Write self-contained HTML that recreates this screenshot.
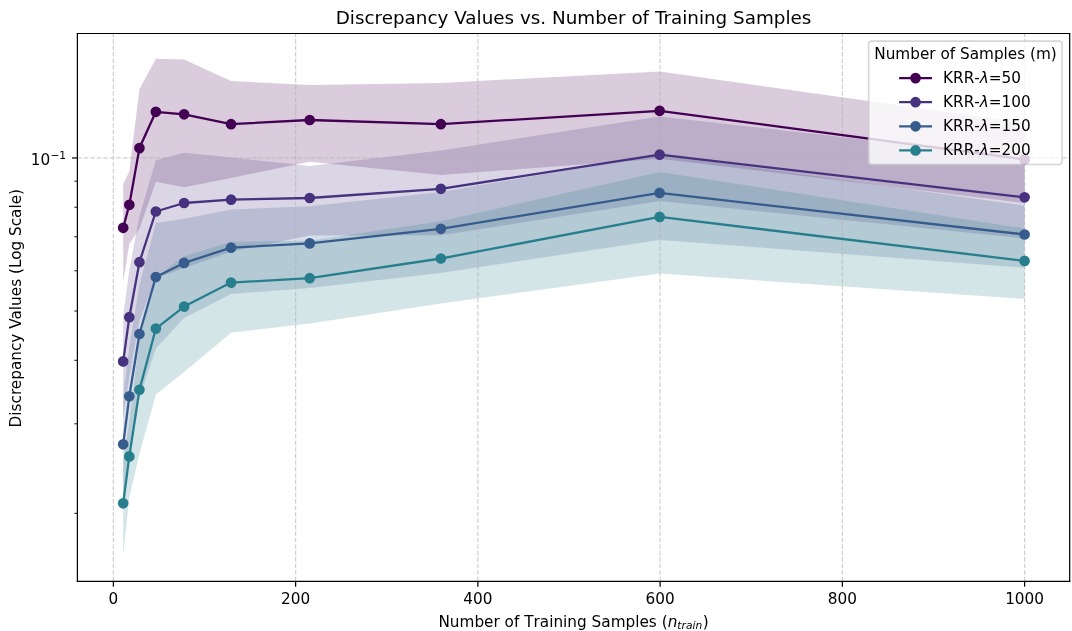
<!DOCTYPE html>
<html><head><meta charset="utf-8"><title>Discrepancy Values vs. Number of Training Samples</title>
<style>html,body{margin:0;padding:0;background:#fff;width:1072px;height:631px;overflow:hidden}svg{display:block;will-change:transform}</style>
</head><body>
<svg width="1072" height="631" viewBox="0 0 701.67 413.01" version="1.1">
<defs>
<style type="text/css">*{stroke-linejoin: round; stroke-linecap: butt}</style>
</defs>
<g id="figure_1">
<g id="patch_1">
<path d="M 0 413.01 
L 701.67 413.01 
L 701.67 0 
L 0 0 
z
" style="fill: #ffffff"/>
</g>
<g id="axes_1">
<g id="patch_2">
<path d="M 50.66 380.48 
L 700.16 380.48 
L 700.16 21.92 
L 50.66 21.92 
z
" style="fill: #ffffff"/>
</g>
<g id="FillBetweenPolyCollection_1">
<defs>
<path id="mf0adc35b43" d="M 80.63 -292.58 
L 80.63 -228.11 
L 84.65 -253.28 
L 91.27 -263.34 
L 102.01 -293.98 
L 120.50 -290.50 
L 151.24 -296.53 
L 202.71 -307.14 
L 288.56 -298.54 
L 431.76 -309.17 
L 670.64 -280.14 
L 670.64 -332.50 
L 670.64 -332.50 
L 431.76 -366.21 
L 288.56 -358.69 
L 202.71 -357.44 
L 151.24 -360 
L 120.50 -374.00 
L 102.01 -374.59 
L 91.27 -354.63 
L 84.65 -300.76 
L 80.63 -292.58 
z
"/>
</defs>
<g clip-path="url(#p15e19fb88e)">
<use href="#mf0adc35b43" x="0" y="413.01" style="fill: #440154; fill-opacity: 0.2"/>
</g>
</g>
<g id="FillBetweenPolyCollection_2">
<defs>
<path id="mdbcffd2e6a" d="M 80.63 -206.18 
L 80.63 -139.01 
L 84.65 -166.05 
L 91.27 -203.10 
L 102.01 -230.87 
L 120.50 -237.54 
L 151.24 -248.22 
L 202.71 -258.91 
L 288.56 -258.99 
L 431.76 -281.41 
L 670.64 -256.90 
L 670.64 -309.6 
L 670.64 -309.6 
L 431.76 -336.82 
L 288.56 -314.57 
L 202.71 -304.36 
L 151.24 -309.86 
L 120.50 -313.00 
L 102.01 -308.09 
L 91.27 -271.63 
L 84.65 -236.29 
L 80.63 -206.18 
z
"/>
</defs>
<g clip-path="url(#p15e19fb88e)">
<use href="#mdbcffd2e6a" x="0" y="413.01" style="fill: #46327e; fill-opacity: 0.2"/>
</g>
</g>
<g id="FillBetweenPolyCollection_3">
<defs>
<path id="m66759be6f7" d="M 80.63 -154.45 
L 80.63 -80.62 
L 84.65 -112.04 
L 91.27 -152.82 
L 102.01 -184.90 
L 120.50 -204.87 
L 151.24 -220.58 
L 202.71 -224.50 
L 288.56 -234.39 
L 431.76 -255.99 
L 670.64 -237.79 
L 670.64 -278.41 
L 670.64 -278.41 
L 431.76 -312.10 
L 288.56 -287.30 
L 202.71 -277.97 
L 151.24 -275.92 
L 120.50 -269.77 
L 102.01 -267.00 
L 91.27 -226.65 
L 84.65 -185.87 
L 80.63 -154.45 
z
"/>
</defs>
<g clip-path="url(#p15e19fb88e)">
<use href="#m66759be6f7" x="0" y="413.01" style="fill: #365c8d; fill-opacity: 0.2"/>
</g>
</g>
<g id="FillBetweenPolyCollection_4">
<defs>
<path id="m89dff38235" d="M 80.63 -111.41 
L 80.63 -49.09 
L 84.65 -87.70 
L 91.27 -115.85 
L 102.01 -154.73 
L 120.50 -169.52 
L 151.24 -195.18 
L 202.71 -201.27 
L 288.56 -214.42 
L 431.76 -234 
L 670.64 -217.30 
L 670.64 -263.50 
L 670.64 -263.50 
L 431.76 -300.50 
L 288.56 -268.22 
L 202.71 -255.51 
L 151.24 -254.79 
L 120.50 -245.31 
L 102.01 -231.14 
L 91.27 -190.39 
L 84.65 -136.72 
L 80.63 -111.41 
z
"/>
</defs>
<g clip-path="url(#p15e19fb88e)">
<use href="#m89dff38235" x="0" y="413.01" style="fill: #277f8e; fill-opacity: 0.2"/>
</g>
</g>
<g id="matplotlib.axis_1">
<g id="xtick_1">
<g id="line2d_1">
<path d="M 74.22 380.48 
L 74.22 21.92 
" clip-path="url(#p15e19fb88e)" style="fill: none; stroke-dasharray: 2.96,1.28; stroke-dashoffset: 0; stroke: #b0b0b0; stroke-opacity: 0.6; stroke-width: 0.8"/>
</g>
<g id="line2d_2">
<defs>
<path id="m1504cfccaf" d="M 0 0 
L 0 3.5 
" style="stroke: #000000; stroke-width: 0.8"/>
</defs>
<g>
<use href="#m1504cfccaf" x="74.22" y="380.48" style="stroke: #000000; stroke-width: 0.8"/>
</g>
</g>
<g id="text_1">
<text style="font-size: 10px; font-family: 'DejaVu Sans', sans-serif; text-anchor: middle" x="74.22" y="395.08" transform="rotate(-0 74.22 395.08)">0</text>
</g>
</g>
<g id="xtick_2">
<g id="line2d_3">
<path d="M 193.50 380.48 
L 193.50 21.92 
" clip-path="url(#p15e19fb88e)" style="fill: none; stroke-dasharray: 2.96,1.28; stroke-dashoffset: 0; stroke: #b0b0b0; stroke-opacity: 0.6; stroke-width: 0.8"/>
</g>
<g id="line2d_4">
<g>
<use href="#m1504cfccaf" x="193.50" y="380.48" style="stroke: #000000; stroke-width: 0.8"/>
</g>
</g>
<g id="text_2">
<text style="font-size: 10px; font-family: 'DejaVu Sans', sans-serif; text-anchor: middle" x="193.50" y="395.08" transform="rotate(-0 193.50 395.08)">200</text>
</g>
</g>
<g id="xtick_3">
<g id="line2d_5">
<path d="M 312.79 380.48 
L 312.79 21.92 
" clip-path="url(#p15e19fb88e)" style="fill: none; stroke-dasharray: 2.96,1.28; stroke-dashoffset: 0; stroke: #b0b0b0; stroke-opacity: 0.6; stroke-width: 0.8"/>
</g>
<g id="line2d_6">
<g>
<use href="#m1504cfccaf" x="312.79" y="380.48" style="stroke: #000000; stroke-width: 0.8"/>
</g>
</g>
<g id="text_3">
<text style="font-size: 10px; font-family: 'DejaVu Sans', sans-serif; text-anchor: middle" x="312.79" y="395.08" transform="rotate(-0 312.79 395.08)">400</text>
</g>
</g>
<g id="xtick_4">
<g id="line2d_7">
<path d="M 432.07 380.48 
L 432.07 21.92 
" clip-path="url(#p15e19fb88e)" style="fill: none; stroke-dasharray: 2.96,1.28; stroke-dashoffset: 0; stroke: #b0b0b0; stroke-opacity: 0.6; stroke-width: 0.8"/>
</g>
<g id="line2d_8">
<g>
<use href="#m1504cfccaf" x="432.07" y="380.48" style="stroke: #000000; stroke-width: 0.8"/>
</g>
</g>
<g id="text_4">
<text style="font-size: 10px; font-family: 'DejaVu Sans', sans-serif; text-anchor: middle" x="432.07" y="395.08" transform="rotate(-0 432.07 395.08)">600</text>
</g>
</g>
<g id="xtick_5">
<g id="line2d_9">
<path d="M 551.35 380.48 
L 551.35 21.92 
" clip-path="url(#p15e19fb88e)" style="fill: none; stroke-dasharray: 2.96,1.28; stroke-dashoffset: 0; stroke: #b0b0b0; stroke-opacity: 0.6; stroke-width: 0.8"/>
</g>
<g id="line2d_10">
<g>
<use href="#m1504cfccaf" x="551.35" y="380.48" style="stroke: #000000; stroke-width: 0.8"/>
</g>
</g>
<g id="text_5">
<text style="font-size: 10px; font-family: 'DejaVu Sans', sans-serif; text-anchor: middle" x="551.35" y="395.08" transform="rotate(-0 551.35 395.08)">800</text>
</g>
</g>
<g id="xtick_6">
<g id="line2d_11">
<path d="M 670.64 380.48 
L 670.64 21.92 
" clip-path="url(#p15e19fb88e)" style="fill: none; stroke-dasharray: 2.96,1.28; stroke-dashoffset: 0; stroke: #b0b0b0; stroke-opacity: 0.6; stroke-width: 0.8"/>
</g>
<g id="line2d_12">
<g>
<use href="#m1504cfccaf" x="670.64" y="380.48" style="stroke: #000000; stroke-width: 0.8"/>
</g>
</g>
<g id="text_6">
<text style="font-size: 10px; font-family: 'DejaVu Sans', sans-serif; text-anchor: middle" x="670.64" y="395.08" transform="rotate(-0 670.64 395.08)">1000</text>
</g>
</g>
<g id="text_7">
<!-- Number of Training Samples ($n_{train}$) -->
<g transform="translate(286.96 410.72)">
<text>
<tspan x="0" y="-0.40" style="font-size: 10px; font-family: 'DejaVu Sans', sans-serif">N</tspan>
<tspan x="7.48" y="-0.40" style="font-size: 10px; font-family: 'DejaVu Sans', sans-serif">u</tspan>
<tspan x="13.81" y="-0.40" style="font-size: 10px; font-family: 'DejaVu Sans', sans-serif">m</tspan>
<tspan x="23.55" y="-0.40" style="font-size: 10px; font-family: 'DejaVu Sans', sans-serif">b</tspan>
<tspan x="29.90" y="-0.40" style="font-size: 10px; font-family: 'DejaVu Sans', sans-serif">e</tspan>
<tspan x="36.05" y="-0.40" style="font-size: 10px; font-family: 'DejaVu Sans', sans-serif">r</tspan>
<tspan x="40.17" y="-0.40" style="font-size: 10px; font-family: 'DejaVu Sans', sans-serif"> </tspan>
<tspan x="43.34" y="-0.40" style="font-size: 10px; font-family: 'DejaVu Sans', sans-serif">o</tspan>
<tspan x="49.46" y="-0.40" style="font-size: 10px; font-family: 'DejaVu Sans', sans-serif">f</tspan>
<tspan x="52.98" y="-0.40" style="font-size: 10px; font-family: 'DejaVu Sans', sans-serif"> </tspan>
<tspan x="56.16" y="-0.40" style="font-size: 10px; font-family: 'DejaVu Sans', sans-serif">T</tspan>
<tspan x="62.27" y="-0.40" style="font-size: 10px; font-family: 'DejaVu Sans', sans-serif">r</tspan>
<tspan x="66.38" y="-0.40" style="font-size: 10px; font-family: 'DejaVu Sans', sans-serif">a</tspan>
<tspan x="72.51" y="-0.40" style="font-size: 10px; font-family: 'DejaVu Sans', sans-serif">i</tspan>
<tspan x="75.29" y="-0.40" style="font-size: 10px; font-family: 'DejaVu Sans', sans-serif">n</tspan>
<tspan x="81.63" y="-0.40" style="font-size: 10px; font-family: 'DejaVu Sans', sans-serif">i</tspan>
<tspan x="84.40" y="-0.40" style="font-size: 10px; font-family: 'DejaVu Sans', sans-serif">n</tspan>
<tspan x="90.74" y="-0.40" style="font-size: 10px; font-family: 'DejaVu Sans', sans-serif">g</tspan>
<tspan x="97.09" y="-0.40" style="font-size: 10px; font-family: 'DejaVu Sans', sans-serif"> </tspan>
<tspan x="100.27" y="-0.40" style="font-size: 10px; font-family: 'DejaVu Sans', sans-serif">S</tspan>
<tspan x="106.62" y="-0.40" style="font-size: 10px; font-family: 'DejaVu Sans', sans-serif">a</tspan>
<tspan x="112.74" y="-0.40" style="font-size: 10px; font-family: 'DejaVu Sans', sans-serif">m</tspan>
<tspan x="122.49" y="-0.40" style="font-size: 10px; font-family: 'DejaVu Sans', sans-serif">p</tspan>
<tspan x="128.83" y="-0.40" style="font-size: 10px; font-family: 'DejaVu Sans', sans-serif">l</tspan>
<tspan x="131.61" y="-0.40" style="font-size: 10px; font-family: 'DejaVu Sans', sans-serif">e</tspan>
<tspan x="137.76" y="-0.40" style="font-size: 10px; font-family: 'DejaVu Sans', sans-serif">s</tspan>
<tspan x="142.97" y="-0.40" style="font-size: 10px; font-family: 'DejaVu Sans', sans-serif"> </tspan>
<tspan x="146.15" y="-0.40" style="font-size: 10px; font-family: 'DejaVu Sans', sans-serif">(</tspan>
<tspan x="172.96" y="-0.40" style="font-size: 10px; font-family: 'DejaVu Sans', sans-serif">)</tspan>
<tspan x="150.05" y="-0.40" style="font-style: oblique; font-size: 10px; font-family: 'DejaVu Sans', sans-serif">n</tspan>
<tspan x="156.39" y="1.23" style="font-style: oblique; font-size: 7px; font-family: 'DejaVu Sans', sans-serif">t</tspan>
<tspan x="159.14" y="1.23" style="font-style: oblique; font-size: 7px; font-family: 'DejaVu Sans', sans-serif">r</tspan>
<tspan x="162.01" y="1.23" style="font-style: oblique; font-size: 7px; font-family: 'DejaVu Sans', sans-serif">a</tspan>
<tspan x="166.30" y="1.23" style="font-style: oblique; font-size: 7px; font-family: 'DejaVu Sans', sans-serif">i</tspan>
<tspan x="168.25" y="1.23" style="font-style: oblique; font-size: 7px; font-family: 'DejaVu Sans', sans-serif">n</tspan>
</text>
</g>
</g>
</g>
<g id="matplotlib.axis_2">
<g id="ytick_1">
<g id="line2d_13">
<path d="M 50.66 103.39 
L 700.16 103.39 
" clip-path="url(#p15e19fb88e)" style="fill: none; stroke-dasharray: 2.96,1.28; stroke-dashoffset: 0; stroke: #b0b0b0; stroke-opacity: 0.6; stroke-width: 0.8"/>
</g>
<g id="line2d_14">
<defs>
<path id="m5d545ce8f8" d="M 0 0 
L -3.5 0 
" style="stroke: #000000; stroke-width: 0.8"/>
</defs>
<g>
<use href="#m5d545ce8f8" x="50.66" y="103.39" style="stroke: #000000; stroke-width: 0.8"/>
</g>
</g>
<g id="text_8">
<!-- $\mathdefault{10^{-1}}$ -->
<g transform="translate(20.16 107.97)">
<text>
<tspan x="0" y="-0.06" style="font-size: 10px; font-family: 'DejaVu Sans', sans-serif">1</tspan>
<tspan x="6.36" y="-0.06" style="font-size: 10px; font-family: 'DejaVu Sans', sans-serif">0</tspan>
<tspan x="12.82" y="-3.89" style="font-size: 7px; font-family: 'DejaVu Sans', sans-serif">−</tspan>
<tspan x="18.68" y="-3.89" style="font-size: 7px; font-family: 'DejaVu Sans', sans-serif">1</tspan>
</text>
</g>
</g>
</g>
<g id="ytick_2">
<g id="line2d_15">
<defs>
<path id="mc3d89a154a" d="M 0 0 
L -2 0 
" style="stroke: #000000; stroke-width: 0.6"/>
</defs>
<g>
<use href="#mc3d89a154a" x="50.66" y="336.00" style="stroke: #000000; stroke-width: 0.6"/>
</g>
</g>
</g>
<g id="ytick_3">
<g id="line2d_16">
<g>
<use href="#mc3d89a154a" x="50.66" y="277.40" style="stroke: #000000; stroke-width: 0.6"/>
</g>
</g>
</g>
<g id="ytick_4">
<g id="line2d_17">
<g>
<use href="#mc3d89a154a" x="50.66" y="235.82" style="stroke: #000000; stroke-width: 0.6"/>
</g>
</g>
</g>
<g id="ytick_5">
<g id="line2d_18">
<g>
<use href="#mc3d89a154a" x="50.66" y="203.57" style="stroke: #000000; stroke-width: 0.6"/>
</g>
</g>
</g>
<g id="ytick_6">
<g id="line2d_19">
<g>
<use href="#mc3d89a154a" x="50.66" y="177.22" style="stroke: #000000; stroke-width: 0.6"/>
</g>
</g>
</g>
<g id="ytick_7">
<g id="line2d_20">
<g>
<use href="#mc3d89a154a" x="50.66" y="154.94" style="stroke: #000000; stroke-width: 0.6"/>
</g>
</g>
</g>
<g id="ytick_8">
<g id="line2d_21">
<g>
<use href="#mc3d89a154a" x="50.66" y="135.64" style="stroke: #000000; stroke-width: 0.6"/>
</g>
</g>
</g>
<g id="ytick_9">
<g id="line2d_22">
<g>
<use href="#mc3d89a154a" x="50.66" y="118.61" style="stroke: #000000; stroke-width: 0.6"/>
</g>
</g>
</g>
<g id="text_9">
<text style="font-size: 10px; font-family: 'DejaVu Sans', sans-serif; text-anchor: middle" x="13.68" y="201.73" transform="rotate(-90 13.68 201.73)">Discrepancy Values (Log Scale)</text>
</g>
</g>
<g id="line2d_23">
<path d="M 80.63 149.10 
L 84.65 134.05 
L 91.27 96.93 
L 102.01 73.17 
L 120.50 74.81 
L 151.24 81.29 
L 202.71 78.54 
L 288.56 81.29 
L 431.76 72.52 
L 670.64 104.33 
" clip-path="url(#p15e19fb88e)" style="fill: none; stroke: #440154; stroke-width: 1.5; stroke-linecap: square"/>
<defs>
<path id="m192c490310" d="M 0 3 
C 0.79 3 1.55 2.68 2.12 2.12 
C 2.68 1.55 3 0.79 3 0 
C 3 -0.79 2.68 -1.55 2.12 -2.12 
C 1.55 -2.68 0.79 -3 0 -3 
C -0.79 -3 -1.55 -2.68 -2.12 -2.12 
C -2.68 -1.55 -3 -0.79 -3 0 
C -3 0.79 -2.68 1.55 -2.12 2.12 
C -1.55 2.68 -0.79 3 0 3 
z
" style="stroke: #440154"/>
</defs>
<g clip-path="url(#p15e19fb88e)">
<use href="#m192c490310" x="80.63" y="149.10" style="fill: #440154; stroke: #440154"/>
<use href="#m192c490310" x="84.65" y="134.05" style="fill: #440154; stroke: #440154"/>
<use href="#m192c490310" x="91.27" y="96.93" style="fill: #440154; stroke: #440154"/>
<use href="#m192c490310" x="102.01" y="73.17" style="fill: #440154; stroke: #440154"/>
<use href="#m192c490310" x="120.50" y="74.81" style="fill: #440154; stroke: #440154"/>
<use href="#m192c490310" x="151.24" y="81.29" style="fill: #440154; stroke: #440154"/>
<use href="#m192c490310" x="202.71" y="78.54" style="fill: #440154; stroke: #440154"/>
<use href="#m192c490310" x="288.56" y="81.29" style="fill: #440154; stroke: #440154"/>
<use href="#m192c490310" x="431.76" y="72.52" style="fill: #440154; stroke: #440154"/>
<use href="#m192c490310" x="670.64" y="104.33" style="fill: #440154; stroke: #440154"/>
</g>
</g>
<g id="line2d_24">
<path d="M 80.63 236.55 
L 84.65 207.62 
L 91.27 171.62 
L 102.01 138.43 
L 120.50 132.87 
L 151.24 130.71 
L 202.71 129.6 
L 288.56 123.57 
L 431.76 101.25 
L 670.64 129.14 
" clip-path="url(#p15e19fb88e)" style="fill: none; stroke: #46327e; stroke-width: 1.5; stroke-linecap: square"/>
<defs>
<path id="m6198d5d98f" d="M 0 3 
C 0.79 3 1.55 2.68 2.12 2.12 
C 2.68 1.55 3 0.79 3 0 
C 3 -0.79 2.68 -1.55 2.12 -2.12 
C 1.55 -2.68 0.79 -3 0 -3 
C -0.79 -3 -1.55 -2.68 -2.12 -2.12 
C -2.68 -1.55 -3 -0.79 -3 0 
C -3 0.79 -2.68 1.55 -2.12 2.12 
C -1.55 2.68 -0.79 3 0 3 
z
" style="stroke: #46327e"/>
</defs>
<g clip-path="url(#p15e19fb88e)">
<use href="#m6198d5d98f" x="80.63" y="236.55" style="fill: #46327e; stroke: #46327e"/>
<use href="#m6198d5d98f" x="84.65" y="207.62" style="fill: #46327e; stroke: #46327e"/>
<use href="#m6198d5d98f" x="91.27" y="171.62" style="fill: #46327e; stroke: #46327e"/>
<use href="#m6198d5d98f" x="102.01" y="138.43" style="fill: #46327e; stroke: #46327e"/>
<use href="#m6198d5d98f" x="120.50" y="132.87" style="fill: #46327e; stroke: #46327e"/>
<use href="#m6198d5d98f" x="151.24" y="130.71" style="fill: #46327e; stroke: #46327e"/>
<use href="#m6198d5d98f" x="202.71" y="129.6" style="fill: #46327e; stroke: #46327e"/>
<use href="#m6198d5d98f" x="288.56" y="123.57" style="fill: #46327e; stroke: #46327e"/>
<use href="#m6198d5d98f" x="431.76" y="101.25" style="fill: #46327e; stroke: #46327e"/>
<use href="#m6198d5d98f" x="670.64" y="129.14" style="fill: #46327e; stroke: #46327e"/>
</g>
</g>
<g id="line2d_25">
<path d="M 80.63 290.81 
L 84.65 259.39 
L 91.27 218.61 
L 102.01 181.30 
L 120.50 172.08 
L 151.24 162.13 
L 202.71 159.31 
L 288.56 149.76 
L 431.76 126.26 
L 670.64 153.49 
" clip-path="url(#p15e19fb88e)" style="fill: none; stroke: #365c8d; stroke-width: 1.5; stroke-linecap: square"/>
<defs>
<path id="m7479418f52" d="M 0 3 
C 0.79 3 1.55 2.68 2.12 2.12 
C 2.68 1.55 3 0.79 3 0 
C 3 -0.79 2.68 -1.55 2.12 -2.12 
C 1.55 -2.68 0.79 -3 0 -3 
C -0.79 -3 -1.55 -2.68 -2.12 -2.12 
C -2.68 -1.55 -3 -0.79 -3 0 
C -3 0.79 -2.68 1.55 -2.12 2.12 
C -1.55 2.68 -0.79 3 0 3 
z
" style="stroke: #365c8d"/>
</defs>
<g clip-path="url(#p15e19fb88e)">
<use href="#m7479418f52" x="80.63" y="290.81" style="fill: #365c8d; stroke: #365c8d"/>
<use href="#m7479418f52" x="84.65" y="259.39" style="fill: #365c8d; stroke: #365c8d"/>
<use href="#m7479418f52" x="91.27" y="218.61" style="fill: #365c8d; stroke: #365c8d"/>
<use href="#m7479418f52" x="102.01" y="181.30" style="fill: #365c8d; stroke: #365c8d"/>
<use href="#m7479418f52" x="120.50" y="172.08" style="fill: #365c8d; stroke: #365c8d"/>
<use href="#m7479418f52" x="151.24" y="162.13" style="fill: #365c8d; stroke: #365c8d"/>
<use href="#m7479418f52" x="202.71" y="159.31" style="fill: #365c8d; stroke: #365c8d"/>
<use href="#m7479418f52" x="288.56" y="149.76" style="fill: #365c8d; stroke: #365c8d"/>
<use href="#m7479418f52" x="431.76" y="126.26" style="fill: #365c8d; stroke: #365c8d"/>
<use href="#m7479418f52" x="670.64" y="153.49" style="fill: #365c8d; stroke: #365c8d"/>
</g>
</g>
<g id="line2d_26">
<path d="M 80.63 329.43 
L 84.65 298.73 
L 91.27 255.14 
L 102.01 215.08 
L 120.50 200.68 
L 151.24 184.97 
L 202.71 182.09 
L 288.56 169.2 
L 431.76 141.97 
L 670.64 170.77 
" clip-path="url(#p15e19fb88e)" style="fill: none; stroke: #277f8e; stroke-width: 1.5; stroke-linecap: square"/>
<defs>
<path id="m8fafc558fe" d="M 0 3 
C 0.79 3 1.55 2.68 2.12 2.12 
C 2.68 1.55 3 0.79 3 0 
C 3 -0.79 2.68 -1.55 2.12 -2.12 
C 1.55 -2.68 0.79 -3 0 -3 
C -0.79 -3 -1.55 -2.68 -2.12 -2.12 
C -2.68 -1.55 -3 -0.79 -3 0 
C -3 0.79 -2.68 1.55 -2.12 2.12 
C -1.55 2.68 -0.79 3 0 3 
z
" style="stroke: #277f8e"/>
</defs>
<g clip-path="url(#p15e19fb88e)">
<use href="#m8fafc558fe" x="80.63" y="329.43" style="fill: #277f8e; stroke: #277f8e"/>
<use href="#m8fafc558fe" x="84.65" y="298.73" style="fill: #277f8e; stroke: #277f8e"/>
<use href="#m8fafc558fe" x="91.27" y="255.14" style="fill: #277f8e; stroke: #277f8e"/>
<use href="#m8fafc558fe" x="102.01" y="215.08" style="fill: #277f8e; stroke: #277f8e"/>
<use href="#m8fafc558fe" x="120.50" y="200.68" style="fill: #277f8e; stroke: #277f8e"/>
<use href="#m8fafc558fe" x="151.24" y="184.97" style="fill: #277f8e; stroke: #277f8e"/>
<use href="#m8fafc558fe" x="202.71" y="182.09" style="fill: #277f8e; stroke: #277f8e"/>
<use href="#m8fafc558fe" x="288.56" y="169.2" style="fill: #277f8e; stroke: #277f8e"/>
<use href="#m8fafc558fe" x="431.76" y="141.97" style="fill: #277f8e; stroke: #277f8e"/>
<use href="#m8fafc558fe" x="670.64" y="170.77" style="fill: #277f8e; stroke: #277f8e"/>
</g>
</g>
<g id="patch_3">
<path d="M 50.66 380.48 
L 50.66 21.92 
" style="fill: none; stroke: #000000; stroke-width: 0.8; stroke-linejoin: miter; stroke-linecap: square"/>
</g>
<g id="patch_4">
<path d="M 700.16 380.48 
L 700.16 21.92 
" style="fill: none; stroke: #000000; stroke-width: 0.8; stroke-linejoin: miter; stroke-linecap: square"/>
</g>
<g id="patch_5">
<path d="M 50.66 380.48 
L 700.16 380.48 
" style="fill: none; stroke: #000000; stroke-width: 0.8; stroke-linejoin: miter; stroke-linecap: square"/>
</g>
<g id="patch_6">
<path d="M 50.66 21.92 
L 700.16 21.92 
" style="fill: none; stroke: #000000; stroke-width: 0.8; stroke-linejoin: miter; stroke-linecap: square"/>
</g>
<g id="text_10">
<text style="font-size: 12px; font-family: 'DejaVu Sans', sans-serif; text-anchor: middle" x="375.41" y="15.92" transform="rotate(-0 375.41 15.92)">Discrepancy Values vs. Number of Training Samples</text>
</g>
<g id="legend_1">
<g id="patch_7">
<path d="M 570.55 107.71 
L 693.16 107.71 
Q 695.16 107.71 695.16 105.71 
L 695.16 28.92 
Q 695.16 26.92 693.16 26.92 
L 570.55 26.92 
Q 568.55 26.92 568.55 28.92 
L 568.55 105.71 
Q 568.55 107.71 570.55 107.71 
z
" style="fill: #ffffff; opacity: 0.8; stroke: #cccccc; stroke-linejoin: miter"/>
</g><g transform="translate(0.65 0.32)">
<g id="text_11">
<text style="font-size: 10px; font-family: 'DejaVu Sans', sans-serif; text-anchor: start" x="571.57" y="38.52" transform="rotate(-0 571.57 38.52)">Number of Samples (m)</text>
</g>
<g id="line2d_27">
<path d="M 588.61 50.80 
L 598.61 50.80 
L 608.61 50.80 
" style="fill: none; stroke: #440154; stroke-width: 1.5; stroke-linecap: square"/>
<g>
<use href="#m192c490310" x="598.61" y="50.80" style="fill: #440154; stroke: #440154"/>
</g>
</g>
<g id="text_12">
<!-- KRR-$\lambda$=50 -->
<g transform="translate(616.61 54.30)">
<text>
<tspan x="0" y="-0.40" style="font-size: 10px; font-family: 'DejaVu Sans', sans-serif">K</tspan>
<tspan x="6.55" y="-0.40" style="font-size: 10px; font-family: 'DejaVu Sans', sans-serif">R</tspan>
<tspan x="13.50" y="-0.40" style="font-size: 10px; font-family: 'DejaVu Sans', sans-serif">R</tspan>
<tspan x="20.45" y="-0.40" style="font-size: 10px; font-family: 'DejaVu Sans', sans-serif">-</tspan>
<tspan x="29.98" y="-0.40" style="font-size: 10px; font-family: 'DejaVu Sans', sans-serif">=</tspan>
<tspan x="38.35" y="-0.40" style="font-size: 10px; font-family: 'DejaVu Sans', sans-serif">5</tspan>
<tspan x="44.72" y="-0.40" style="font-size: 10px; font-family: 'DejaVu Sans', sans-serif">0</tspan>
<tspan x="24.06" y="-0.40" style="font-style: oblique; font-size: 10px; font-family: 'DejaVu Sans', sans-serif">λ</tspan>
</text>
</g>
</g>
<g id="line2d_28">
<path d="M 588.61 66.58 
L 598.61 66.58 
L 608.61 66.58 
" style="fill: none; stroke: #46327e; stroke-width: 1.5; stroke-linecap: square"/>
<g>
<use href="#m6198d5d98f" x="598.61" y="66.58" style="fill: #46327e; stroke: #46327e"/>
</g>
</g>
<g id="text_13">
<!-- KRR-$\lambda$=100 -->
<g transform="translate(616.61 70.08)">
<text>
<tspan x="0" y="-0.40" style="font-size: 10px; font-family: 'DejaVu Sans', sans-serif">K</tspan>
<tspan x="6.55" y="-0.40" style="font-size: 10px; font-family: 'DejaVu Sans', sans-serif">R</tspan>
<tspan x="13.50" y="-0.40" style="font-size: 10px; font-family: 'DejaVu Sans', sans-serif">R</tspan>
<tspan x="20.45" y="-0.40" style="font-size: 10px; font-family: 'DejaVu Sans', sans-serif">-</tspan>
<tspan x="29.98" y="-0.40" style="font-size: 10px; font-family: 'DejaVu Sans', sans-serif">=</tspan>
<tspan x="38.35" y="-0.40" style="font-size: 10px; font-family: 'DejaVu Sans', sans-serif">1</tspan>
<tspan x="44.72" y="-0.40" style="font-size: 10px; font-family: 'DejaVu Sans', sans-serif">0</tspan>
<tspan x="51.08" y="-0.40" style="font-size: 10px; font-family: 'DejaVu Sans', sans-serif">0</tspan>
<tspan x="24.06" y="-0.40" style="font-style: oblique; font-size: 10px; font-family: 'DejaVu Sans', sans-serif">λ</tspan>
</text>
</g>
</g>
<g id="line2d_29">
<path d="M 588.61 82.36 
L 598.61 82.36 
L 608.61 82.36 
" style="fill: none; stroke: #365c8d; stroke-width: 1.5; stroke-linecap: square"/>
<g>
<use href="#m7479418f52" x="598.61" y="82.36" style="fill: #365c8d; stroke: #365c8d"/>
</g>
</g>
<g id="text_14">
<!-- KRR-$\lambda$=150 -->
<g transform="translate(616.61 85.86)">
<text>
<tspan x="0" y="-0.40" style="font-size: 10px; font-family: 'DejaVu Sans', sans-serif">K</tspan>
<tspan x="6.55" y="-0.40" style="font-size: 10px; font-family: 'DejaVu Sans', sans-serif">R</tspan>
<tspan x="13.50" y="-0.40" style="font-size: 10px; font-family: 'DejaVu Sans', sans-serif">R</tspan>
<tspan x="20.45" y="-0.40" style="font-size: 10px; font-family: 'DejaVu Sans', sans-serif">-</tspan>
<tspan x="29.98" y="-0.40" style="font-size: 10px; font-family: 'DejaVu Sans', sans-serif">=</tspan>
<tspan x="38.35" y="-0.40" style="font-size: 10px; font-family: 'DejaVu Sans', sans-serif">1</tspan>
<tspan x="44.72" y="-0.40" style="font-size: 10px; font-family: 'DejaVu Sans', sans-serif">5</tspan>
<tspan x="51.08" y="-0.40" style="font-size: 10px; font-family: 'DejaVu Sans', sans-serif">0</tspan>
<tspan x="24.06" y="-0.40" style="font-style: oblique; font-size: 10px; font-family: 'DejaVu Sans', sans-serif">λ</tspan>
</text>
</g>
</g>
<g id="line2d_30">
<path d="M 588.61 98.13 
L 598.61 98.13 
L 608.61 98.13 
" style="fill: none; stroke: #277f8e; stroke-width: 1.5; stroke-linecap: square"/>
<g>
<use href="#m8fafc558fe" x="598.61" y="98.13" style="fill: #277f8e; stroke: #277f8e"/>
</g>
</g>
<g id="text_15">
<!-- KRR-$\lambda$=200 -->
<g transform="translate(616.61 101.63)">
<text>
<tspan x="0" y="-0.40" style="font-size: 10px; font-family: 'DejaVu Sans', sans-serif">K</tspan>
<tspan x="6.55" y="-0.40" style="font-size: 10px; font-family: 'DejaVu Sans', sans-serif">R</tspan>
<tspan x="13.50" y="-0.40" style="font-size: 10px; font-family: 'DejaVu Sans', sans-serif">R</tspan>
<tspan x="20.45" y="-0.40" style="font-size: 10px; font-family: 'DejaVu Sans', sans-serif">-</tspan>
<tspan x="29.98" y="-0.40" style="font-size: 10px; font-family: 'DejaVu Sans', sans-serif">=</tspan>
<tspan x="38.35" y="-0.40" style="font-size: 10px; font-family: 'DejaVu Sans', sans-serif">2</tspan>
<tspan x="44.72" y="-0.40" style="font-size: 10px; font-family: 'DejaVu Sans', sans-serif">0</tspan>
<tspan x="51.08" y="-0.40" style="font-size: 10px; font-family: 'DejaVu Sans', sans-serif">0</tspan>
<tspan x="24.06" y="-0.40" style="font-style: oblique; font-size: 10px; font-family: 'DejaVu Sans', sans-serif">λ</tspan>
</text>
</g>
</g>
</g></g>
</g>
</g>
<defs>
<clipPath id="p15e19fb88e">
<rect x="50.66" y="21.92" width="649.50" height="358.56"/>
</clipPath>
</defs>
</svg>

</body></html>
